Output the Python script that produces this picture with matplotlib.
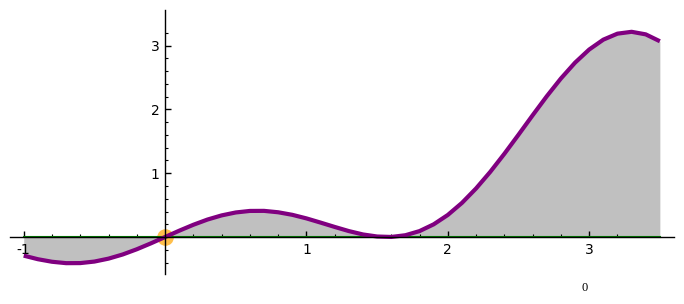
import numpy as np
import matplotlib
matplotlib.use('Agg')
import matplotlib.pyplot as plt
from matplotlib.ticker import FixedLocator

# values
x_vals = [-1.0, -0.9, -0.8, -0.7, -0.6, -0.5, -0.4, -0.3, -0.2, -0.1,
          0.0, 0.1, 0.2, 0.3, 0.4, 0.5, 0.6, 0.7, 0.8, 0.9,
          1.0, 1.1, 1.2, 1.3, 1.4, 1.5, 1.6, 1.7, 1.8, 1.9,
          2.0, 2.1, 2.2, 2.3, 2.4, 2.5, 2.6, 2.7, 2.8, 2.9,
          3.0, 3.1, 3.2, 3.3, 3.4, 3.5]
y_vals = [-0.292, -0.348, -0.388, -0.410, -0.409, -0.385, -0.339, -0.274, -0.192, -0.099,
          0.0, 0.099, 0.192, 0.274, 0.339, 0.385, 0.409, 0.410, 0.388, 0.348,
          0.292, 0.226, 0.158, 0.093, 0.040, 0.008, 0.001, 0.028, 0.093, 0.199,
          0.346, 0.535, 0.762, 1.021, 1.305, 1.604, 1.909, 2.207, 2.486, 2.734,
          2.940, 3.095, 3.189, 3.218, 3.178, 3.070]
point_x = [0.0]
point_y = [0.0]
xtick_vals = [-1, 1, 2, 3]
xtick_labels = ['-1', '1', '2', '3']
ytick_vals = [1, 2, 3]
ytick_labels = ['1', '2', '3']

fig = plt.figure(figsize=(6.84, 3.04), dpi=100)
ax = fig.add_axes([10/684, 30/304, 664/684, 264/304])

x = np.array(x_vals)
y = np.array(y_vals)

ax.fill_between(x, y, 0, color='#c0c0c0', linewidth=0, zorder=1)
ax.plot(point_x, point_y, 'o', color='orange', alpha=0.7, markersize=12,
        markeredgewidth=0, zorder=2)
ax.plot([x[0], x[-1]], [0, 0], color='#008000', linewidth=1.5, zorder=3)
ax.plot(x, y, color='#800080', linewidth=3, solid_joinstyle='round',
        solid_capstyle='butt', zorder=4)

ax.set_xlim(-1.097, 3.60)
ax.set_ylim(-0.58, 3.56)

# sage style axes through the origin
ax.spines['left'].set_position(('data', 0))
ax.spines['bottom'].set_position(('data', 0))
ax.spines['right'].set_visible(False)
ax.spines['top'].set_visible(False)
for s in ['left', 'bottom']:
    ax.spines[s].set_zorder(5)
    ax.spines[s].set_linewidth(1)

ax.xaxis.set_major_locator(FixedLocator(xtick_vals))
ax.set_xticklabels(xtick_labels)
ax.yaxis.set_major_locator(FixedLocator(ytick_vals))
ax.set_yticklabels(ytick_labels)
ax.xaxis.set_minor_locator(FixedLocator(np.round(np.arange(-0.8, 3.21, 0.2), 2)))
ax.yaxis.set_minor_locator(FixedLocator(np.round(np.arange(-0.4, 3.21, 0.2), 2)))
ax.tick_params(which='major', direction='in', length=4, width=1, labelsize=10, pad=4)
ax.tick_params(which='minor', direction='in', length=2, width=0.8)
ax.patch.set_visible(False)

fig.text(585/684, 1 - 288/304, '0', family='Liberation Serif', fontsize=9,
         ha='center', va='center')

fig.savefig('out.png', dpi=100)
